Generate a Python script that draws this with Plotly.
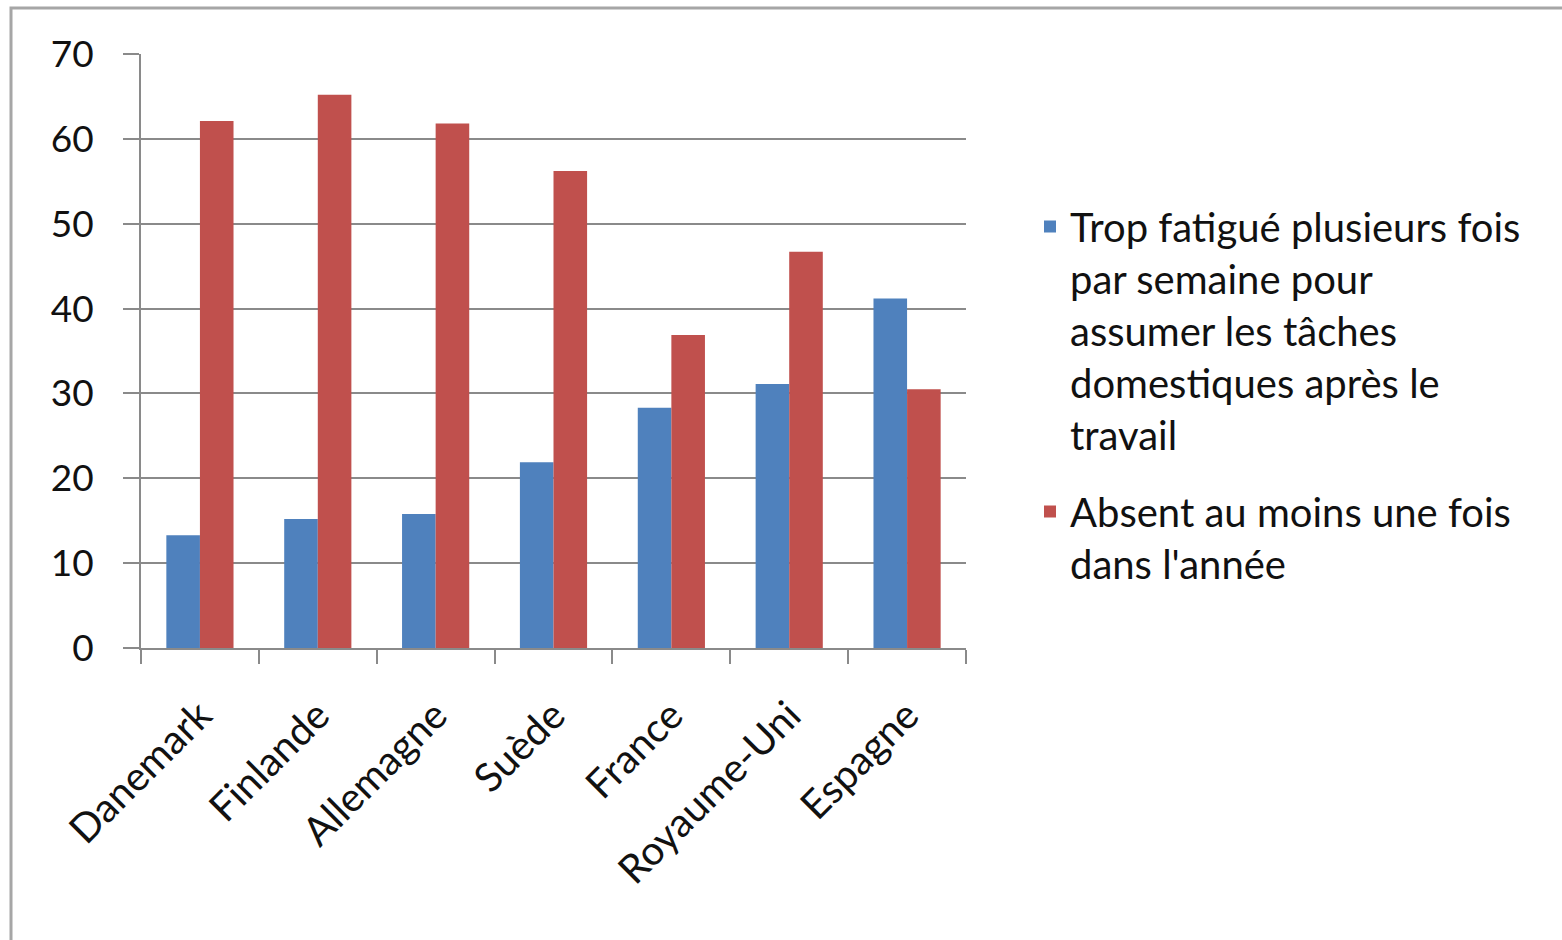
import plotly.graph_objects as go

# Données
countries = ["Danemark", "Finlande", "Allemagne", "Suède", "France", "Royaume-Uni", "Espagne"]
fatigue = [13.3, 15.2, 15.8, 21.9, 28.3, 31.1, 41.2]
absent = [62.1, 65.2, 61.8, 56.2, 36.9, 46.7, 30.5]
series_names = [
    "Trop fatigué plusieurs fois<br>par semaine pour<br>assumer les tâches<br>domestiques après le<br>travail",
    "Absent au moins une fois<br>dans l'année",
]
y_ticks = [0, 10, 20, 30, 40, 50, 60, 70]

BLUE = "#4F81BD"
RED = "#C0504D"
GRID = "#8a8a8a"
FONT = "Lato"

W, H = 1562, 940
L, R, T, B = 141, 596, 54, 292
pw, ph = W - L - R, H - T - B


def px_x(x):
    return (x - L) / pw


def px_y(y):
    return (H - B - y) / ph


fig = go.Figure()
fig.add_trace(go.Bar(x=countries, y=fatigue, name=series_names[0], marker_color=BLUE,
                     marker_line_width=0, legendgroup="g1"))
fig.add_trace(go.Bar(x=countries, y=absent, name=series_names[1], marker_color=RED,
                     marker_line_width=0, legendgroup="g2"))

# cadre gris autour du graphique
fig.add_shape(type="rect", xref="paper", yref="paper",
              x0=px_x(11), x1=px_x(1600), y0=px_y(8), y1=px_y(1000),
              line=dict(color="#a6a6a6", width=3), fillcolor="rgba(0,0,0,0)", layer="below")

fig.update_layout(
    width=W, height=H,
    margin=dict(l=L, r=R, t=T, b=B),
    paper_bgcolor="white", plot_bgcolor="white",
    barmode="group", bargap=0.43, bargroupgap=0,
    font=dict(family=FONT, color="#111111", size=36),
    legend=dict(x=px_x(1030), y=px_y(194), xanchor="left", yanchor="top",
                font=dict(family=FONT, size=40, color="#111111"),
                valign="top", tracegroupgap=22, bgcolor="rgba(0,0,0,0)"),
    showlegend=True,
)
fig.update_xaxes(
    type="category", tickangle=-45, showgrid=False,
    showline=True, linecolor=GRID, linewidth=2,
    ticks="outside", ticklen=14, tickcolor=GRID, tickwidth=2,
    tickson="boundaries", ticklabelstandoff=26,
    tickfont=dict(family=FONT, size=40, color="#111111"),
)
fig.update_yaxes(
    range=[0, 70], tickvals=y_ticks, showgrid=True, gridcolor=GRID, gridwidth=2,
    showline=True, linecolor=GRID, linewidth=2, zeroline=False,
    ticks="outside", ticklen=16, tickcolor=GRID, tickwidth=2,
    ticklabelstandoff=22, tickfont=dict(family=FONT, size=37, color="#111111"),
)

fig.write_html("out.html")
